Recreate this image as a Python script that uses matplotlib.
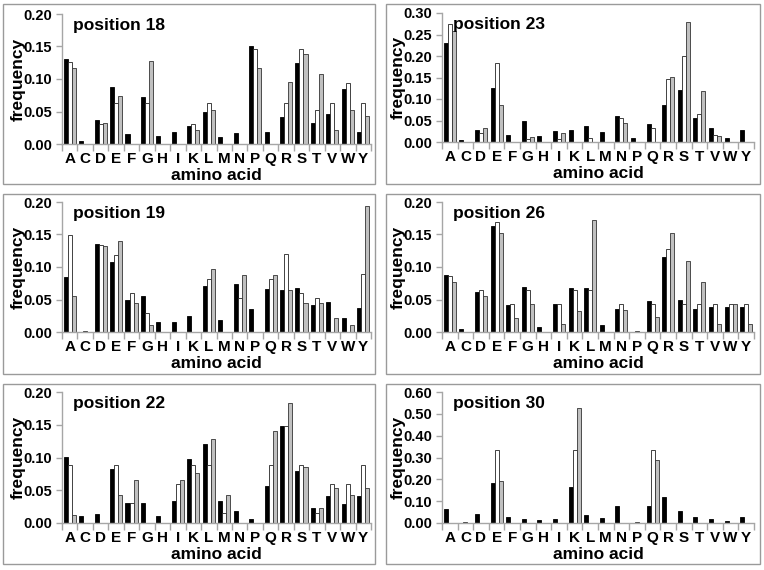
import matplotlib
matplotlib.use("Agg")
import matplotlib.pyplot as plt
from matplotlib.patches import Rectangle
import numpy as np

plt.rcParams['font.family'] = ['Liberation Sans', 'DejaVu Sans']
plt.rcParams['font.weight'] = 'bold'

amino_acids = ["A", "C", "D", "E", "F", "G", "H", "I", "K", "L",
               "M", "N", "P", "Q", "R", "S", "T", "V", "W", "Y"]

# position 18
p18_black = [0.131, 0.005, 0.037, 0.087, 0.015, 0.072, 0.013, 0.018, 0.027, 0.049,
             0.011, 0.017, 0.151, 0.018, 0.042, 0.124, 0.033, 0.046, 0.085, 0.018]
p18_white = [0.126, 0.0, 0.031, 0.063, 0.0, 0.063, 0.0, 0.0, 0.031, 0.063,
             0.0, 0.0, 0.146, 0.0, 0.063, 0.146, 0.052, 0.063, 0.094, 0.063]
p18_gray = [0.117, 0.0, 0.032, 0.074, 0.0, 0.128, 0.0, 0.0, 0.021, 0.053,
            0.0, 0.0, 0.117, 0.0, 0.096, 0.138, 0.107, 0.022, 0.053, 0.043]

# position 23
p23_black = [0.230, 0.004, 0.028, 0.126, 0.017, 0.048, 0.015, 0.026, 0.027, 0.038,
             0.023, 0.060, 0.010, 0.041, 0.085, 0.121, 0.055, 0.032, 0.009, 0.027]
p23_white = [0.275, 0.0, 0.022, 0.184, 0.0, 0.008, 0.0, 0.007, 0.0, 0.010,
             0.0, 0.055, 0.0, 0.032, 0.147, 0.199, 0.064, 0.016, 0.0, 0.0]
p23_gray = [0.258, 0.0, 0.032, 0.087, 0.0, 0.011, 0.0, 0.022, 0.0, 0.0,
            0.0, 0.045, 0.0, 0.0, 0.151, 0.279, 0.119, 0.013, 0.0, 0.0]

# position 19
p19_black = [0.084, 0.0, 0.136, 0.108, 0.049, 0.056, 0.015, 0.015, 0.025, 0.071,
             0.018, 0.074, 0.035, 0.066, 0.064, 0.067, 0.042, 0.046, 0.022, 0.037]
p19_white = [0.149, 0.002, 0.134, 0.119, 0.060, 0.030, 0.0, 0.0, 0.0, 0.082,
             0.0, 0.053, 0.0, 0.082, 0.120, 0.060, 0.053, 0.0, 0.0, 0.090]
p19_gray = [0.055, 0.0, 0.133, 0.140, 0.044, 0.011, 0.0, 0.0, 0.0, 0.097,
            0.0, 0.087, 0.0, 0.087, 0.065, 0.044, 0.044, 0.022, 0.011, 0.194]

# position 26
p26_black = [0.088, 0.004, 0.062, 0.163, 0.041, 0.070, 0.008, 0.043, 0.068, 0.067,
             0.011, 0.035, 0.0, 0.048, 0.116, 0.050, 0.035, 0.038, 0.039, 0.039]
p26_white = [0.086, 0.0, 0.065, 0.169, 0.043, 0.065, 0.0, 0.043, 0.065, 0.065,
             0.0, 0.043, 0.001, 0.043, 0.127, 0.043, 0.043, 0.043, 0.043, 0.043]
p26_gray = [0.077, 0.0, 0.055, 0.152, 0.022, 0.043, 0.0, 0.013, 0.032, 0.173,
            0.0, 0.034, 0.0, 0.023, 0.152, 0.109, 0.077, 0.012, 0.043, 0.012]

# position 22
p22_black = [0.101, 0.010, 0.014, 0.083, 0.031, 0.031, 0.011, 0.034, 0.098, 0.121,
             0.034, 0.019, 0.006, 0.057, 0.148, 0.080, 0.023, 0.041, 0.029, 0.041]
p22_white = [0.089, 0.0, 0.0, 0.089, 0.031, 0.0, 0.0, 0.059, 0.089, 0.088,
             0.015, 0.0, 0.0, 0.088, 0.148, 0.088, 0.016, 0.059, 0.059, 0.088]
p22_gray = [0.012, 0.0, 0.0, 0.043, 0.065, 0.0, 0.0, 0.065, 0.076, 0.128,
            0.043, 0.0, 0.0, 0.140, 0.183, 0.086, 0.023, 0.054, 0.043, 0.054]

# position 30
p30_black = [0.065, 0.0, 0.042, 0.184, 0.028, 0.019, 0.012, 0.018, 0.164, 0.037,
             0.021, 0.080, 0.0, 0.080, 0.121, 0.057, 0.028, 0.020, 0.010, 0.027]
p30_white = [0.0, 0.003, 0.0, 0.336, 0.0, 0.0, 0.0, 0.0, 0.336, 0.0,
             0.0, 0.0, 0.004, 0.336, 0.0, 0.0, 0.0, 0.0, 0.0, 0.0]
p30_gray = [0.0, 0.0, 0.0, 0.192, 0.0, 0.0, 0.0, 0.0, 0.525, 0.0,
            0.0, 0.0, 0.0, 0.289, 0.0, 0.0, 0.0, 0.0, 0.0, 0.0]

panels = [
    ("position 18", p18_black, p18_white, p18_gray, 0.20, 0.05),
    ("position 23", p23_black, p23_white, p23_gray, 0.30, 0.05),
    ("position 19", p19_black, p19_white, p19_gray, 0.20, 0.05),
    ("position 26", p26_black, p26_white, p26_gray, 0.20, 0.05),
    ("position 22", p22_black, p22_white, p22_gray, 0.20, 0.05),
    ("position 30", p30_black, p30_white, p30_gray, 0.60, 0.10),
]

W, H = 764, 570
fig = plt.figure(figsize=(W / 100, H / 100), dpi=100)

# panel frames (pixels): x0, x1 per column; y0, y1 per row
col_box = [(3, 375), (386, 760)]
row_box = [(4, 184), (194, 374), (384, 564)]
col_ax = [(62, 371), (442, 754)]
row_ax = [(14, 144), (202, 332), (392, 523)]

for c in range(2):
    for r in range(3):
        x0, x1 = col_box[c]
        y0, y1 = row_box[r]
        fig.patches.append(Rectangle((x0 / W, 1 - y1 / H), (x1 - x0) / W, (y1 - y0) / H,
                                     transform=fig.transFigure, fill=False,
                                     edgecolor='#9a9a9a', linewidth=1.0))

x = np.arange(len(amino_acids))
bw = 0.26
spine_col = '#a6a6a6'

for i, (title, blk, wht, gry, ymax, step) in enumerate(panels):
    r, c = divmod(i, 2)
    ax0, ax1 = col_ax[c]
    ay0, ay1 = row_ax[r]
    if title == "position 23":
        ay0, ay1 = 13, 142
    ax = fig.add_axes([ax0 / W, 1 - ay1 / H, (ax1 - ax0) / W, (ay1 - ay0) / H])
    ax.bar(x - bw, blk, bw, color='black', edgecolor='black', linewidth=0.6)
    ax.bar(x, wht, bw, color='white', edgecolor='#222222', linewidth=0.6)
    ax.bar(x + bw, gry, bw, color='#c0c0c0', edgecolor='#333333', linewidth=0.6)
    ax.set_xlim(-0.5, len(amino_acids) - 0.5)
    ax.set_ylim(0, ymax)
    ax.set_yticks(np.arange(0, ymax + step / 2, step))
    ax.yaxis.set_major_formatter(matplotlib.ticker.FormatStrFormatter('%.2f'))
    ax.set_xticks(x)
    ax.set_xticklabels(amino_acids)
    ax.set_xticks(np.arange(-0.5, len(amino_acids)), minor=True)
    ax.tick_params(axis='x', which='major', length=0, pad=6, labelsize=11)
    ax.tick_params(axis='x', which='minor', length=5, color=spine_col, width=1)
    ax.tick_params(axis='y', length=4, color=spine_col, width=1, labelsize=10.5, pad=3)
    for s in ['top', 'right']:
        ax.spines[s].set_visible(False)
    for s in ['left', 'bottom']:
        ax.spines[s].set_color(spine_col)
        ax.spines[s].set_linewidth(1.0)
    ax.set_facecolor('none')
    ax.set_ylabel('frequency', fontsize=12.5, fontweight='bold', labelpad=-1.5)
    ax.set_xlabel('amino acid', fontsize=12.5, fontweight='bold', labelpad=1)
    ax.text(0.035, 0.97, title, transform=ax.transAxes, fontsize=12.5,
            fontweight='bold', va='top', ha='left')

fig.savefig('out.png', dpi=100)
